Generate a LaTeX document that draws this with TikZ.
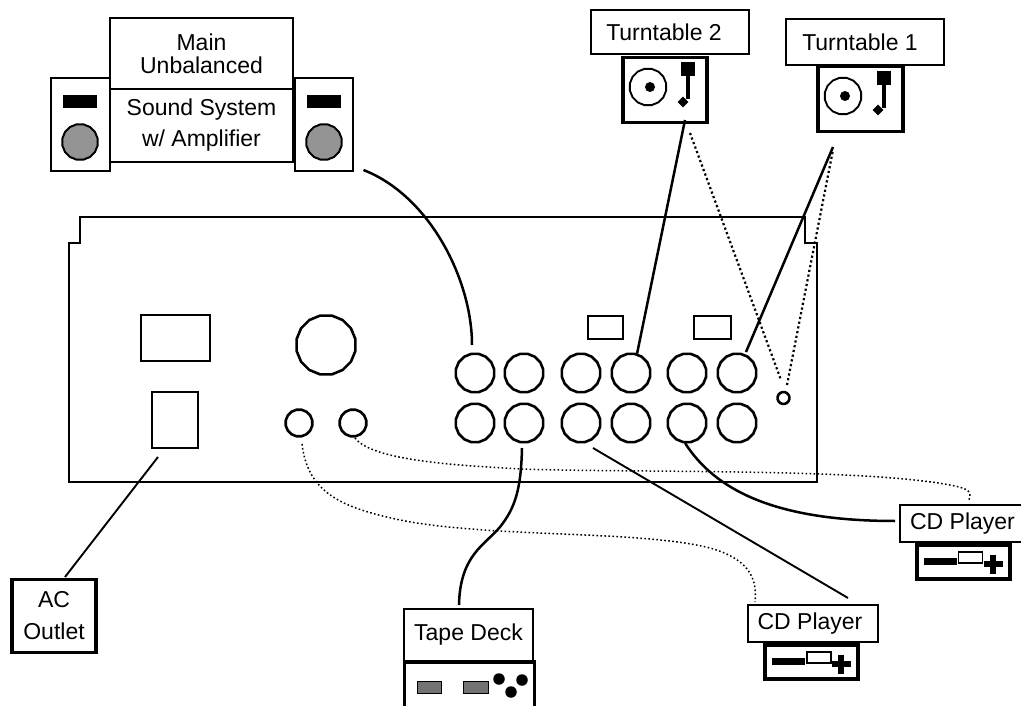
\documentclass[tikz,border=0pt]{standalone}
\usepackage{fontspec}
\setmainfont{Liberation Sans}
\usetikzlibrary{shapes.geometric}
\tikzset{
 x=1pt,y=-1pt,
 lbl/.style={draw,line width=1.8pt,fill=white,inner sep=0pt,align=center,font=\fontsize{23}{23}\selectfont},
 dev/.style={draw,line width=3.6pt,fill=white,inner sep=0pt},
 part/.style={draw,line width=2.6pt,inner sep=0pt},
 jack/.style={regular polygon,regular polygon sides=16,draw,line width=2.6pt,minimum size=39pt,inner sep=0pt},
 smalljack/.style={jack,minimum size=27pt},
 blk/.style={fill=black,inner sep=0pt},
 cable/.style={line width=2.5pt},
 thin cable/.style={line width=1.9pt},
 dotcable/.style={line width=2.2pt,dash pattern=on 2.2pt off 2.6pt},
 finedots/.style={line width=1.5pt,dash pattern=on 1.6pt off 2.4pt},
}
\begin{document}
\begin{tikzpicture}
\useasboundingbox (0,0) rectangle (1021,706);
% panel
\draw[line width=2.8pt] (69,482) -- (69,243) -- (80,243) -- (80,217) -- (805,217) -- (805,243) -- (817,243) -- (817,482) -- cycle;
\node[part,minimum width=69pt,minimum height=46pt] (mains) at (175.5,338) {};
\node[part,minimum width=46pt,minimum height=56pt] (power) at (175,420) {};
\node[jack,minimum size=60pt] (knob) at (326,345) {};
\node[smalljack] (sa) at (299,423) {};
\node[smalljack] (sb) at (353,423) {};
\node[part,minimum width=35pt,minimum height=23pt] (swa) at (605.5,327.5) {};
\node[part,minimum width=37pt,minimum height=23pt] (swb) at (712.5,327.5) {};
\node[jack] (ja) at (475,373) {};
\node[jack] (jb) at (524,373) {};
\node[jack] (jc) at (581,373) {};
\node[jack] (jd) at (631,373) {};
\node[jack] (je) at (687,373) {};
\node[jack] (jf) at (737,373) {};
\node[jack] (ka) at (475,423) {};
\node[jack] (kb) at (524,423) {};
\node[jack] (kc) at (581,423) {};
\node[jack] (kd) at (631,423) {};
\node[jack] (ke) at (687,423) {};
\node[jack] (kf) at (737,423) {};
\node[smalljack,minimum size=12pt] (gnd) at (783.5,398) {};
% sound system
\node[part,line width=1.9pt,minimum width=59pt,minimum height=93pt] (spl) at (80.5,124.5) {};
\node[part,line width=1.9pt,minimum width=58pt,minimum height=93pt] (spr) at (324,124.5) {};
\node[blk,minimum width=34pt,minimum height=13pt] (twl) at (80,101.5) {};
\node[blk,minimum width=34pt,minimum height=13pt] (twr) at (323.5,101.5) {};
\node[jack,line width=2pt,fill=black!42,minimum size=36pt] (wfl) at (80,142) {};
\node[jack,line width=2pt,fill=black!42,minimum size=36pt] (wfr) at (324,142) {};
\node[lbl,minimum width=183pt,minimum height=71pt] (main) at (201.5,53.5) {Main\\Unbalanced};
\node[lbl,minimum width=183pt,minimum height=73pt] (snd) at (201.5,125.5) {Sound System\\[8pt]w/ Amplifier};
% turntable 2
\node[lbl,minimum width=158pt,minimum height=44pt] (t2l) at (670,32) {Turntable 2\hspace{12pt}};
\node[dev,minimum width=84pt,minimum height=65pt] (t2) at (665,90) {};
\node[jack,line width=1.9pt,minimum size=37pt] (t2p) at (648,87) {};
\node[circle,fill=black,inner sep=0pt,minimum size=10pt] (t2d) at (650,87) {};
\node[blk,minimum width=14pt,minimum height=14pt] (t2h) at (688,69) {};
\draw[line width=4pt] (t2h.south) -- +(0,23);
\node[blk,diamond,minimum size=11pt] (t2s) at (683,102) {};
% turntable 1
\node[lbl,minimum width=158pt,minimum height=46pt] (t1l) at (865,42) {Turntable 1\hspace{10pt}};
\node[dev,minimum width=85pt,minimum height=65pt] (t1) at (860.5,99) {};
\node[jack,line width=1.9pt,minimum size=37pt] (t1p) at (843,96) {};
\node[circle,fill=black,inner sep=0pt,minimum size=10pt] (t1d) at (845,96) {};
\node[blk,minimum width=14pt,minimum height=14pt] (t1h) at (884,78) {};
\draw[line width=4pt] (t1h.south) -- +(0,23);
\node[blk,diamond,minimum size=11pt] (t1s) at (878,110) {};
% AC
\node[lbl,line width=3.6pt,minimum width=84.5pt,minimum height=73pt] (ac) at (54,616) {AC\\[9pt]Outlet\hspace{4pt}};
% tape deck
\node[lbl,minimum width=129pt,minimum height=52pt] (tl) at (468.5,635) {Tape Deck};
\node[dev,minimum width=130pt,minimum height=76pt] (td) at (469.5,700) {};
\node[part,line width=1pt,fill=black!55,minimum width=24pt,minimum height=12pt] (g1) at (429,687.5) {};
\node[part,line width=1pt,fill=black!55,minimum width=25pt,minimum height=12pt] (g2) at (476,687.5) {};
\node[circle,fill=black,inner sep=0pt,minimum size=11.5pt] (r1) at (499,679) {};
\node[circle,fill=black,inner sep=0pt,minimum size=11.5pt] (r2) at (522,680) {};
\node[circle,fill=black,inner sep=0pt,minimum size=11.5pt] (r3) at (511,692) {};
% CD 2
\node[lbl,minimum width=130pt,minimum height=37pt] (c2l) at (813,623.5) {CD Player\hspace{6pt}};
\node[dev,minimum width=93pt,minimum height=34pt] (c2) at (811.5,662) {};
\node[blk,minimum width=33pt,minimum height=7.5pt] (c2b) at (788.5,661.5) {};
\node[part,line width=1.3pt,minimum width=24pt,minimum height=11pt] (c2r) at (819,657.5) {};
\node[blk,minimum width=19pt,minimum height=6.5pt] (c2p) at (841,664) {};
\node[blk,minimum width=6.5pt,minimum height=19pt] (c2q) at (841,664) {};
% CD 1
\node[lbl,minimum width=130pt,minimum height=37pt] (c1l) at (965,523.5) {CD Player\hspace{5pt}};
\node[dev,minimum width=93pt,minimum height=34pt] (c1) at (963.5,562) {};
\node[blk,minimum width=33pt,minimum height=7.5pt] (c1b) at (940.5,561.5) {};
\node[part,line width=1.3pt,minimum width=24pt,minimum height=11pt] (c1r) at (970.5,557.5) {};
\node[blk,minimum width=19pt,minimum height=6.5pt] (c1p) at (993,564) {};
\node[blk,minimum width=6.5pt,minimum height=19pt] (c1q) at (993,564) {};
% free ends
\coordinate (e1) at (363.5,170);
\coordinate (e2) at (472,345);
\coordinate (e3) at (685,120);
\coordinate (e4) at (637,354);
\coordinate (e5) at (833,147);
\coordinate (e6) at (746,352);
\coordinate (e7) at (690,133);
\coordinate (e8) at (781,380);
\coordinate (e9) at (787,385);
\coordinate (e10) at (833,150);
\coordinate (e11) at (158,457);
\coordinate (e12) at (65,577);
\coordinate (e13) at (522,448);
\coordinate (e14) at (459,605);
\coordinate (e15) at (593,448);
\coordinate (e16) at (848,598);
\coordinate (e17) at (685,443);
\coordinate (e18) at (895,521);
\coordinate (e19) at (355,438);
\coordinate (e20) at (969,500);
\coordinate (e21) at (302,444);
\coordinate (e22) at (755,602);
% connectors
\draw[cable] (e1) .. controls (430,196) and (472,280) .. (e2);
\draw[cable] (e3) -- (e4);
\draw[cable] (e5) -- (e6);
\draw[dotcable] (e7) -- (e8);
\draw[dotcable] (e9) -- (e10);
\draw[thin cable] (e11) -- (e12);
\draw[cable] (e13) .. controls (521,490) and (515,508) .. (500,527) .. controls (485,545) and (460,555) .. (e14);
\draw[thin cable] (e15) -- (e16);
\draw[cable] (e17) .. controls (715,490) and (775,521) .. (e18);
\draw[finedots] (e19) .. controls (372,460) and (450,465) .. (520,469) .. controls (640,473) and (860,468) .. (950,485) .. controls (965,488) and (973,490) .. (e20);
\draw[finedots] (e21) .. controls (308,495) and (345,508) .. (400,520) .. controls (490,538) and (640,530) .. (710,548) .. controls (745,558) and (758,575) .. (e22);
\end{tikzpicture}
\end{document}
